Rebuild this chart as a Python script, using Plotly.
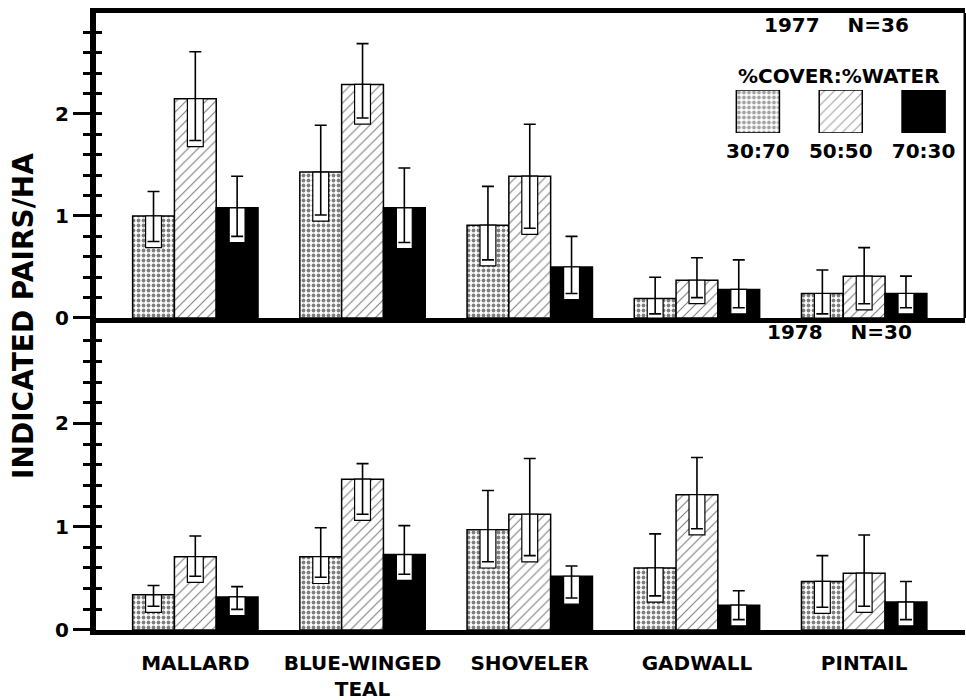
import plotly.graph_objects as go

# ---------------- data ----------------
species = ["MALLARD", "BLUE-WINGED<br>TEAL", "SHOVELER", "GADWALL", "PINTAIL"]
ratios = ["30:70", "50:50", "70:30"]
y_ticks = [0, 1, 2]
y_minor = [0.2, 0.4, 0.6, 0.8, 1.2, 1.4, 1.6, 1.8, 2.2, 2.4, 2.6, 2.8]

# 1977, N=36  (mean, upper error, lower error)
v1977_3070 = [1.00, 1.43, 0.91, 0.19, 0.24]
u1977_3070 = [0.24, 0.46, 0.38, 0.21, 0.23]
d1977_3070 = [0.25, 0.42, 0.34, 0.15, 0.20]
v1977_5050 = [2.15, 2.29, 1.39, 0.37, 0.41]
u1977_5050 = [0.46, 0.40, 0.51, 0.22, 0.28]
d1977_5050 = [0.41, 0.33, 0.51, 0.17, 0.27]
v1977_7030 = [1.08, 1.08, 0.50, 0.28, 0.24]
u1977_7030 = [0.31, 0.39, 0.30, 0.29, 0.17]
d1977_7030 = [0.28, 0.34, 0.26, 0.18, 0.14]

# 1978, N=30
v1978_3070 = [0.34, 0.71, 0.97, 0.60, 0.47]
u1978_3070 = [0.09, 0.28, 0.38, 0.33, 0.25]
d1978_3070 = [0.11, 0.20, 0.31, 0.27, 0.25]
v1978_5050 = [0.71, 1.46, 1.12, 1.31, 0.55]
u1978_5050 = [0.20, 0.15, 0.54, 0.36, 0.37]
d1978_5050 = [0.19, 0.34, 0.40, 0.33, 0.32]
v1978_7030 = [0.32, 0.73, 0.52, 0.24, 0.27]
u1978_7030 = [0.10, 0.28, 0.10, 0.14, 0.20]
d1978_7030 = [0.12, 0.19, 0.21, 0.14, 0.17]

# ---------------- styling ----------------
FONT = "DejaVu Sans"
BAR_W = 0.25
NOTCH_W = 0.095
NOTCH_PAD = 0.06
styles = [
    dict(color="white", pattern=dict(shape=".", size=5, solidity=0.45, fgcolor="black", bgcolor="white")),
    dict(color="white", pattern=dict(shape="/", size=7, solidity=0.16, fgcolor="black", bgcolor="white")),
    dict(color="black"),
]

fig = go.Figure()
xpos = list(range(len(species)))

panels = [
    ("x", "y", [(v1977_3070, u1977_3070, d1977_3070),
                (v1977_5050, u1977_5050, d1977_5050),
                (v1977_7030, u1977_7030, d1977_7030)]),
    ("x2", "y2", [(v1978_3070, u1978_3070, d1978_3070),
                  (v1978_5050, u1978_5050, d1978_5050),
                  (v1978_7030, u1978_7030, d1978_7030)]),
]

for xa, ya, series in panels:
    for k, (v, u, d) in enumerate(series):
        fig.add_trace(go.Bar(
            x=xpos, y=v, width=BAR_W, offset=-1.5 * BAR_W + k * BAR_W,
            marker=dict(line=dict(color="black", width=1.5), **styles[k]),
            xaxis=xa, yaxis=ya, showlegend=False, hoverinfo="skip"))
    for k, (v, u, d) in enumerate(series):
        base = [max(vi - di - NOTCH_PAD, 0) for vi, di in zip(v, d)]
        height = [vi - bi for vi, bi in zip(v, base)]
        fig.add_trace(go.Bar(
            x=xpos, y=height, base=base, width=NOTCH_W,
            offset=-1.5 * BAR_W + k * BAR_W + BAR_W / 2 - NOTCH_W / 2,
            marker=dict(color="white", line=dict(color="black", width=1.2)),
            error_y=dict(type="data", symmetric=False, array=u, arrayminus=d,
                         color="black", thickness=1.6, width=6),
            xaxis=xa, yaxis=ya, showlegend=False, hoverinfo="skip"))

# empty traces so the overlay tick axes get drawn
fig.add_trace(go.Scatter(x=[], y=[], xaxis="x", yaxis="y5", showlegend=False))
fig.add_trace(go.Scatter(x=[], y=[], xaxis="x2", yaxis="y6", showlegend=False))

# legend swatches
fig.add_trace(go.Bar(
    x=[0, 1, 2], y=[1, 1, 1], width=0.52,
    marker=dict(color=["white", "white", "black"],
                line=dict(color="black", width=1.5),
                pattern=dict(shape=[".", "/", ""], size=[5, 7, 7],
                             solidity=[0.45, 0.16, 0.16], fgcolor="black")),
    xaxis="x3", yaxis="y3", showlegend=False, hoverinfo="skip"))

xr = [-0.594, 4.603]
TOP_DOM = [0.5057, 1]
BOT_DOM = [0, 0.5024]
tickfont = dict(family=FONT, size=20, color="black", weight="bold")
common_y = dict(showgrid=False, zeroline=False, showline=True, linecolor="black",
                linewidth=6, tickvals=y_ticks, ticks="outside", ticklen=17,
                tickwidth=2.5, tickcolor="black", tickfont=tickfont, automargin=False,
                minor=dict(tickvals=y_minor, ticks="outside", ticklen=7,
                           tickwidth=2.5, tickcolor="black"))
inner_y = dict(showgrid=False, zeroline=False, showline=False, automargin=False,
               tickvals=y_ticks + y_minor, ticks="inside", ticklen=6,
               tickwidth=2.5, tickcolor="black", showticklabels=False)

fig.update_layout(
    width=966, height=700,
    margin=dict(l=96, r=1, t=13, b=70),
    paper_bgcolor="white", plot_bgcolor="white",
    barmode="overlay",
    xaxis=dict(domain=[0, 1], range=xr, anchor="y", showline=True, linecolor="black",
               linewidth=5, mirror=True, ticks="", showticklabels=False,
               showgrid=False, zeroline=False, automargin=False),
    yaxis=dict(domain=TOP_DOM, range=[0, 2.99], anchor="x", **common_y),
    xaxis2=dict(domain=[0, 1], range=xr, anchor="y2", showline=True, linecolor="black",
                linewidth=5, ticks="", tickvals=xpos, ticktext=species,
                tickfont=dict(family=FONT, size=20, color="black", weight="bold"),
                ticklabelstandoff=11, showgrid=False, zeroline=False, automargin=False),
    yaxis2=dict(domain=BOT_DOM, range=[0, 3.0], anchor="x2", **common_y),
    yaxis5=dict(overlaying="y", anchor="x", side="left", range=[0, 2.99], **inner_y),
    yaxis6=dict(overlaying="y2", anchor="x2", side="left", range=[0, 3.0], **inner_y),
    xaxis3=dict(domain=[0.714, 1.0], range=[-0.5, 2.5], anchor="y3", tickvals=[0, 1, 2],
                ticktext=ratios, ticks="", showline=False, showgrid=False,
                zeroline=False, tickfont=tickfont, ticklabelstandoff=4, automargin=False),
    yaxis3=dict(domain=[0.8055, 0.8752], range=[0, 1], anchor="x3", visible=False),
    shapes=[dict(type="line", xref="paper", yref="paper", x0=1, x1=1,
                 y0=TOP_DOM[0], y1=1, line=dict(color="black", width=3))],
    annotations=[
        dict(text="1977\u00a0\u00a0\u00a0\u00a0N=36", xref="paper", yref="paper",
             x=0.8527, y=0.9805, showarrow=False, font=tickfont,
             xanchor="center", yanchor="middle"),
        dict(text="%COVER:%WATER", xref="paper", yref="paper",
             x=0.855, y=0.8979, showarrow=False, font=tickfont,
             xanchor="center", yanchor="middle"),
        dict(text="1978\u00a0\u00a0\u00a0\u00a0N=30", xref="paper", yref="paper",
             x=0.856, y=0.483, showarrow=False, font=tickfont,
             xanchor="center", yanchor="middle"),
        dict(text="INDICATED PAIRS/HA", xref="paper", yref="paper",
             x=-0.0829, y=0.509, textangle=-90, showarrow=False,
             font=dict(family=FONT, size=28, color="black", weight="bold"),
             xanchor="center", yanchor="middle"),
    ],
)

fig.write_html("out.html", config={"displayModeBar": False},
               post_script="document.body.style.margin='0';")
